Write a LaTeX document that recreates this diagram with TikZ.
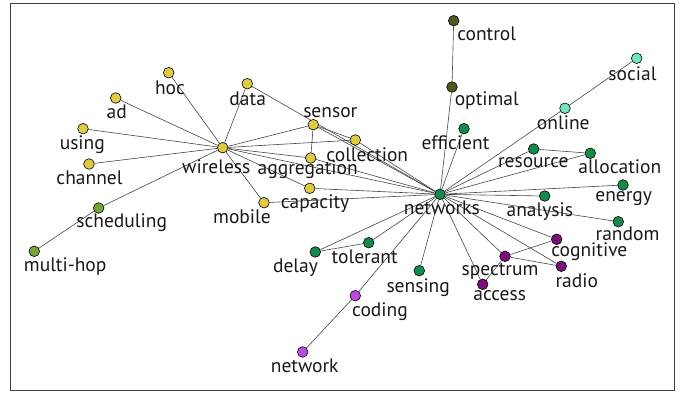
\documentclass[tikz,border=0pt]{standalone}
\usepackage{fontspec}
\setmainfont{PT Sans}
\usetikzlibrary{backgrounds}
\definecolor{cyel}{RGB}{224,201,67}
\definecolor{cgrn}{RGB}{20,138,76}
\definecolor{colv}{RGB}{78,88,34}
\definecolor{cteal}{RGB}{112,228,190}
\definecolor{cpur}{RGB}{122,14,122}
\definecolor{clpur}{RGB}{190,72,226}
\definecolor{clime}{RGB}{114,164,56}
\definecolor{cedge}{RGB}{70,70,70}
\tikzset{
  vtx/.style={circle,draw=black,line width=0.6pt,inner sep=0pt,minimum size=10.6pt},
  lbl/.style={anchor=base,inner sep=0pt,font=\fontsize{19.5}{21}\selectfont,text=black!90},
  edge/.style={draw=cedge,line width=0.6pt}
}
\begin{document}
\begin{tikzpicture}[x=1pt,y=-1pt]
\useasboundingbox (0,0) rectangle (686,394);
\draw[line width=1pt,draw=black!75] (10.3,3) rectangle (674.7,390.7);

% vertices
\node[vtx,fill=cyel] (hoc) at (168.7,72.7) {};
\node[vtx,fill=cyel] (data) at (247.3,83.7) {};
\node[vtx,fill=cyel] (ad) at (115.7,98) {};
\node[vtx,fill=cyel] (using) at (83,128.7) {};
\node[vtx,fill=cyel] (wireless) at (222.7,147.7) {};
\node[vtx,fill=cyel] (channel) at (89,164) {};
\node[vtx,fill=cyel] (sensor) at (313.3,124.7) {};
\node[vtx,fill=cyel] (aggregation) at (310.7,158) {};
\node[vtx,fill=cyel] (collection) at (355.3,140) {};
\node[vtx,fill=cyel] (capacity) at (309.7,188.3) {};
\node[vtx,fill=cyel] (mobile) at (264,202.7) {};
\node[vtx,fill=cgrn] (networks) at (440,194.3) {};
\node[vtx,fill=colv] (control) at (453.7,20.7) {};
\node[vtx,fill=colv] (optimal) at (452,87) {};
\node[vtx,fill=cgrn] (efficient) at (464,128.7) {};
\node[vtx,fill=cteal] (social) at (636.7,58.3) {};
\node[vtx,fill=cteal] (online) at (565,108.3) {};
\node[vtx,fill=cgrn] (resource) at (533.7,149) {};
\node[vtx,fill=cgrn] (allocation) at (590.3,153.3) {};
\node[vtx,fill=cgrn] (energy) at (623,185) {};
\node[vtx,fill=cgrn] (analysis) at (544.7,196) {};
\node[vtx,fill=cgrn] (random) at (618.3,221.7) {};
\node[vtx,fill=cpur] (cognitive) at (556.7,239.3) {};
\node[vtx,fill=cpur] (spectrum) at (505,256.3) {};
\node[vtx,fill=cpur] (radio) at (561.3,266.3) {};
\node[vtx,fill=cpur] (access) at (482.7,284.3) {};
\node[vtx,fill=cgrn] (sensing) at (419.3,270.7) {};
\node[vtx,fill=clpur] (coding) at (355.3,295.7) {};
\node[vtx,fill=cgrn] (tolerant) at (368.7,242.7) {};
\node[vtx,fill=cgrn] (delay) at (315.3,252) {};
\node[vtx,fill=clpur] (network) at (302.7,352) {};
\node[vtx,fill=clime] (scheduling) at (98.7,208) {};
\node[vtx,fill=clime] (multihop) at (34.3,251.3) {};

% connectors, kept underneath the discs
\begin{scope}[on background layer]
\foreach \u/\v in {
  wireless/hoc, wireless/data, wireless/ad, wireless/using, wireless/channel,
  wireless/sensor, wireless/collection, wireless/aggregation, wireless/capacity,
  wireless/mobile, wireless/networks, wireless/scheduling, scheduling/multihop,
  sensor/aggregation, sensor/collection, sensor/networks, data/networks,
  collection/networks, aggregation/networks, capacity/networks, mobile/networks,
  networks/optimal, optimal/control, networks/efficient, networks/online,
  online/social, networks/resource, networks/allocation, resource/allocation,
  networks/energy, networks/analysis, networks/random, networks/cognitive,
  networks/radio, networks/spectrum, networks/access, networks/sensing,
  networks/coding, networks/tolerant, networks/delay, delay/tolerant,
  spectrum/cognitive, spectrum/radio, spectrum/access, coding/network}
  \draw[edge] (\u) -- (\v);
\end{scope}

% labels
\node[lbl] (l-hoc) at (170,94.3) {hoc};
\node[lbl] (l-data) at (247.7,105.3) {data};
\node[lbl] (l-ad) at (116.7,118.7) {ad};
\node[lbl] (l-using) at (82.3,149.3) {using};
\node[lbl] (l-channel) at (89.5,184.3) {channel};
\node[lbl] (l-wireless) at (216.3,173.7) {wireless};
\node[lbl] (l-sensor) at (330.3,117.5) {sensor};
\node[lbl] (l-aggregation) at (307.7,174) {aggregation};
\node[lbl] (l-collection) at (367.3,161.7) {collection};
\node[lbl] (l-capacity) at (315,208.3) {capacity};
\node[lbl] (l-mobile) at (242,223.3) {mobile};
\node[lbl] (l-networks) at (441.8,214.3) {networks};
\node[lbl] (l-control) at (486.7,40) {control};
\node[lbl] (l-optimal) at (486.8,105.3) {optimal};
\node[lbl] (l-efficient) at (455.5,149.7) {efficient};
\node[lbl] (l-social) at (632.5,80) {social};
\node[lbl] (l-online) at (563.3,129.3) {online};
\node[lbl] (l-resource) at (533.3,167.7) {resource};
\node[lbl] (l-allocation) at (619.8,173.7) {allocation};
\node[lbl] (l-energy) at (623.7,201) {energy};
\node[lbl] (l-analysis) at (539.8,216) {analysis};
\node[lbl] (l-random) at (627.5,240) {random};
\node[lbl] (l-cognitive) at (589.3,256.5) {cognitive};
\node[lbl] (l-spectrum) at (500,275) {spectrum};
\node[lbl] (l-radio) at (576.8,287.3) {radio};
\node[lbl] (l-access) at (499.7,300) {access};
\node[lbl] (l-sensing) at (418.2,292.7) {sensing};
\node[lbl] (l-coding) at (380,316) {coding};
\node[lbl] (l-tolerant) at (364.7,263.3) {tolerant};
\node[lbl] (l-delay) at (295.5,272.7) {delay};
\node[lbl] (l-network) at (304.7,372.7) {network};
\node[lbl] (l-scheduling) at (121.7,227.7) {scheduling};
\node[lbl] (l-multihop) at (65.2,271.7) {multi-hop};
\end{tikzpicture}
\end{document}
